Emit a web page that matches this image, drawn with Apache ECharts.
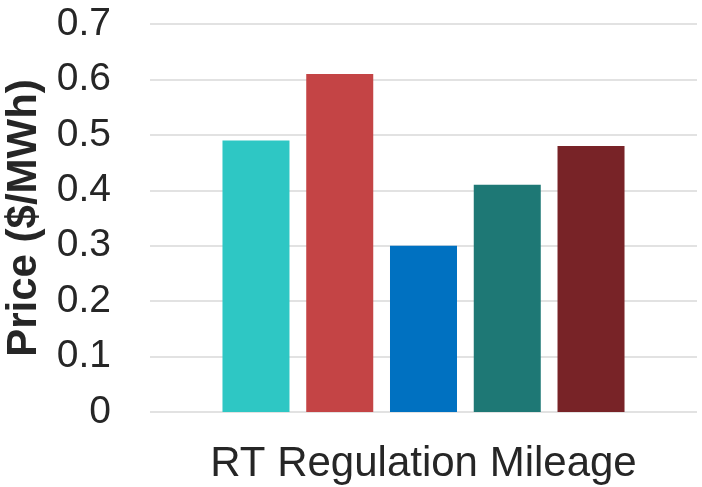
<!DOCTYPE html>
<html>
<head>
<meta charset="utf-8">
<script src="https://cdn.jsdelivr.net/npm/echarts@6/dist/echarts.min.js"></script>
<style>
  html, body { margin: 0; padding: 0; background: #fff; }
  #chart { width: 702px; height: 487px; }
</style>
</head>
<body>
<div id="chart"></div>
<script>
// Category and per-series prices ($/MWh)
const categories = ['RT Regulation Mileage'];
const seriesValues = [
  [0.49],
  [0.61],
  [0.30],
  [0.41],
  [0.48]
];
const seriesColors = ['#2EC7C4', '#C44445', '#0071C1', '#1E7875', '#782327'];
const yTicks = { min: 0, max: 0.7, interval: 0.1 };

const textColor = '#262626';
const fontFamily = '"Liberation Sans", Arial, sans-serif';

const chart = echarts.init(document.getElementById('chart'), null, { renderer: 'canvas' });

chart.setOption({
  animation: false,
  backgroundColor: '#ffffff',
  grid: { left: 150, right: 5, top: 24, bottom: 75, containLabel: false, outerBoundsMode: 'none' },
  xAxis: {
    type: 'category',
    data: categories,
    axisLine: { show: false },
    axisTick: { show: false },
    axisLabel: { color: textColor, fontSize: 42, fontFamily: fontFamily, margin: 31 }
  },
  yAxis: {
    type: 'value',
    min: yTicks.min,
    max: yTicks.max,
    interval: yTicks.interval,
    name: 'Price ($/MWh)',
    nameLocation: 'middle',
    nameGap: 104,
    nameTextStyle: { color: textColor, fontSize: 42, fontWeight: 'bold', fontFamily: fontFamily },
    axisLine: { show: false },
    axisTick: { show: false },
    axisLabel: {
      color: textColor, fontSize: 39, fontFamily: fontFamily, margin: 39,
      formatter: v => (v === 0 ? '0' : v.toFixed(1))
    },
    splitLine: { lineStyle: { color: '#d9d9d9', width: 1.5 } }
  },
  series: seriesValues.map((vals, i) => ({
    type: 'bar',
    data: vals,
    barGap: '25%',
    barCategoryGap: '26.5%',
    itemStyle: { color: seriesColors[i] }
  }))
});
</script>
</body>
</html>
